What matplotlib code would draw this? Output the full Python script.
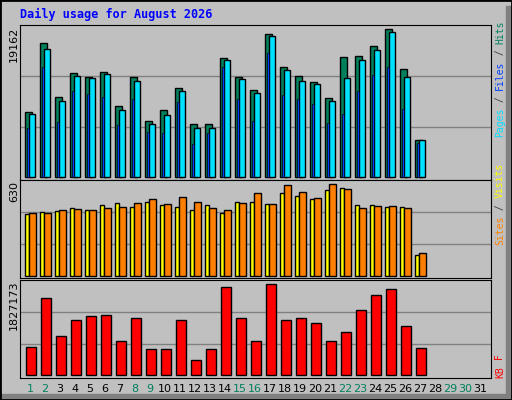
import matplotlib
matplotlib.use("Agg")
import matplotlib.pyplot as plt
from matplotlib.patches import Rectangle
import numpy as np

days = np.arange(1, 32)
weekend = [1, 2, 8, 9, 15, 16, 22, 23, 29, 30]

hits = [8200, 16960, 10190, 13160, 12650, 13320, 8970, 12650, 7070, 8470, 11250, 6690, 6690, 15060,
        12650, 11000, 18150, 13950, 12780, 12010, 9980, 15200, 15310, 16580, 18740, 13660, 4660]
files = [7950, 16210, 9600, 12780, 12510, 13070, 8470, 12150, 6690, 7820, 10870, 6170, 6170, 14810,
         12400, 10620, 17900, 13550, 12150, 11770, 9600, 12510, 14810, 16080, 18360, 12650, 4660]
pages = [6170, 13910, 6940, 10870, 10480, 10120, 6550, 9870, 5670, 5540, 9490, 4160, 5540, 13910,
         9870, 7070, 15690, 10370, 9870, 9220, 6820, 7950, 10870, 12900, 13910, 8580, 4270]
sites = [404, 418, 425, 444, 431, 464, 477, 450, 483, 464, 450, 431, 464, 411,
         483, 483, 471, 542, 523, 503, 562, 575, 464, 464, 450, 450, 135]
visits = [411, 411, 431, 437, 431, 444, 450, 477, 503, 471, 516, 483, 444, 431,
          477, 542, 471, 595, 549, 510, 602, 569, 444, 457, 457, 444, 149]
kbytes = [537000, 1476000, 747000, 1054000, 1131000, 1149000, 652000, 1093000, 499000, 499000,
          1054000, 287000, 499000, 1686000, 1093000, 652000, 1745000, 1054000, 1093000, 996000,
          652000, 824000, 1246000, 1533000, 1648000, 939000, 517000]
max_hits, max_visits, max_kb = 19162, 630, 1827173

mono = "DejaVu Sans Mono"
fig = plt.figure(figsize=(5.12, 4.0), dpi=100, facecolor="#C0C0C0")
# frame
fig.patches.append(Rectangle((1 - 6/512, 0), 6/512, 1 - 6/400, transform=fig.transFigure, color="#808080"))
fig.patches.append(Rectangle((0, 0), 1 - 6/512, 6/400, transform=fig.transFigure, color="#808080"))
fig.patches.append(Rectangle((0, 0), 1, 1, transform=fig.transFigure, fill=False, ec="black", lw=2))

def panel(bottom, height):
    ax = fig.add_axes([20/512, bottom, 471/512, height])
    ax.set_facecolor("#C0C0C0")
    ax.set_xlim(0.667, 32.07)
    ax.set_xticks([]); ax.set_yticks([])
    for s in ax.spines.values():
        s.set_color("black")
    return ax

n = len(hits)
x = days[:n]
kw = dict(align="edge", edgecolor="black", linewidth=1)

ax1 = panel(1 - 180/400, 155/400)
ax1.set_ylim(-0.02*max_hits, 1.007*max_hits)
for g in (1/3, 2/3):
    ax1.axhline(g*max_hits, color="#808080", lw=1, zorder=0)
ax1.bar(x, hits, width=0.47, color="#00805C", **kw)
ax1.bar(x + 0.29, files, width=0.38, color="#00E0FF", **kw)
ax1.bar(x + 0.13, pages, width=0.13, color="#0040FF", align="edge", edgecolor="black", linewidth=0.5)

ax2 = panel(1 - 278/400, 98/400)
ax2.set_ylim(-0.02*max_visits, 1.0*max_visits)
for g in (1/3, 2/3):
    ax2.axhline(g*max_visits, color="#808080", lw=1, zorder=0)
ax2.bar(x, sites, width=0.3, color="#FFFF00", **kw)
ax2.bar(x + 0.27, visits, width=0.47, color="#FF8000", **kw)

ax3 = panel(1 - 378/400, 98/400)
ax3.set_ylim(-0.028*max_kb, 1.0*max_kb)
for g in (1/3, 2/3):
    ax3.axhline(g*max_kb, color="#808080", lw=1, zorder=0)
ax3.bar(x + 0.09, kbytes, width=0.67, color="#FF0000", **kw)

fig.text(20/512, 1 - 14/400, "Daily usage for August 2026", color="#0000FF", fontsize=8.5,
         fontweight="bold", family=mono, va="center")

for val, ytop in ((max_hits, 27), (max_visits, 181), (max_kb, 281)):
    fig.text(14/512, 1 - ytop/400, str(val), rotation=90, fontsize=8, ha="center", va="top")

def side(parts, ybottom):
    y = 1 - ybottom/400
    for txt, col in parts:
        fig.text(500/512, y, txt, rotation=90, color=col, fontsize=7, family=mono,
                 ha="center", va="bottom")
        y += len(txt) * 0.6 * 7 / 72 * 100 / 400

side([("Pages", "#00E0FF"), (" / ", "#404040"), ("Files", "#0040FF"), (" / ", "#404040"),
      ("Hits", "#00805C")], 137)
side([("Sites", "#FF8000"), (" / ", "#404040"), ("Visits", "#FFFF00")], 245)
side([("KB", "#FF0000"), (" F", "#FF0000")], 378)

for d in days:
    px = 25 + 15*(d - 1) + 5
    fig.text(px/512, 1 - 389/400, str(d), fontsize=8, ha="center", va="center",
             color="#00805C" if d in weekend else "black")

fig.savefig("out.png", dpi=100, facecolor=fig.get_facecolor())
